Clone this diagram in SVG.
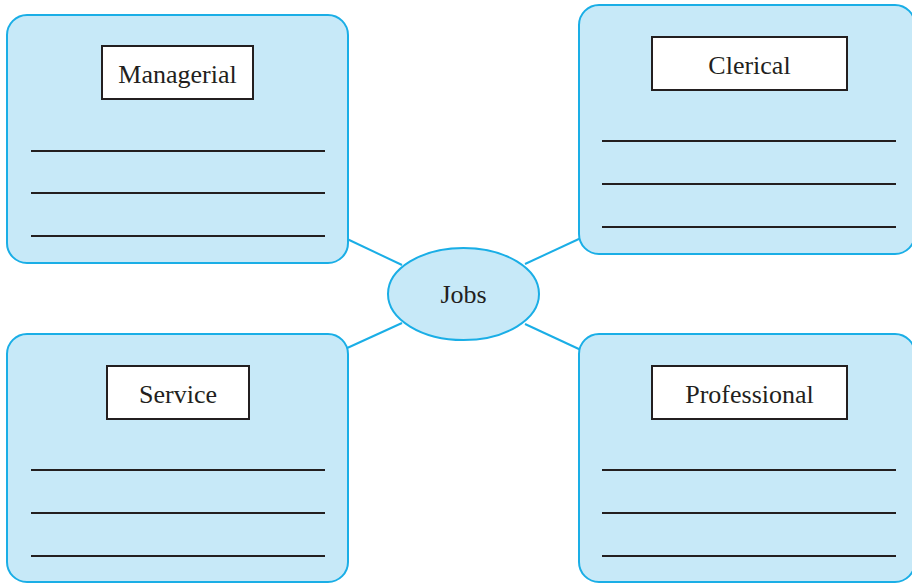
<svg xmlns="http://www.w3.org/2000/svg" width="912" height="583" viewBox="0 0 912 583">
<style>
.box{fill:#c7e9f8;stroke:#1aaee6;stroke-width:2}
.lbl{fill:#ffffff;stroke:#231f20;stroke-width:2}
.rule{stroke:#231f20;stroke-width:2}
.conn{stroke:#1aaee6;stroke-width:2;fill:none}
text{font-family:"Liberation Serif","Times New Roman",serif;font-size:26px;fill:#231f20;text-anchor:middle}
</style>
<rect width="912" height="583" fill="#ffffff"/>
<g id="connectors">
<line class="conn" x1="345" y1="238" x2="402" y2="265"/>
<line class="conn" x1="525" y1="264" x2="581" y2="238"/>
<line class="conn" x1="345" y1="349" x2="402" y2="323"/>
<line class="conn" x1="525" y1="324" x2="581" y2="350"/>
</g>
<g id="managerial">
<rect class="box" x="7" y="15" width="341" height="248" rx="20"/>
<rect class="lbl" x="102" y="46" width="151" height="53"/>
<text x="177.5" y="83">Managerial</text>
<line class="rule" x1="31" y1="151" x2="325" y2="151"/>
<line class="rule" x1="31" y1="193" x2="325" y2="193"/>
<line class="rule" x1="31" y1="236" x2="325" y2="236"/>
</g>
<g id="clerical">
<rect class="box" x="579" y="5" width="336" height="249" rx="20"/>
<rect class="lbl" x="652" y="37" width="195" height="53"/>
<text x="749.5" y="74">Clerical</text>
<line class="rule" x1="602" y1="141" x2="896" y2="141"/>
<line class="rule" x1="602" y1="184" x2="896" y2="184"/>
<line class="rule" x1="602" y1="227" x2="896" y2="227"/>
</g>
<g id="service">
<rect class="box" x="7" y="334" width="341" height="248" rx="20"/>
<rect class="lbl" x="107" y="366" width="142" height="53"/>
<text x="178" y="403">Service</text>
<line class="rule" x1="31" y1="470" x2="325" y2="470"/>
<line class="rule" x1="31" y1="513" x2="325" y2="513"/>
<line class="rule" x1="31" y1="556" x2="325" y2="556"/>
</g>
<g id="professional">
<rect class="box" x="579" y="334" width="336" height="248" rx="20"/>
<rect class="lbl" x="652" y="366" width="195" height="53"/>
<text x="749.5" y="403">Professional</text>
<line class="rule" x1="602" y1="470" x2="896" y2="470"/>
<line class="rule" x1="602" y1="513" x2="896" y2="513"/>
<line class="rule" x1="602" y1="556" x2="896" y2="556"/>
</g>
<g id="jobs">
<ellipse class="box" cx="463.5" cy="294" rx="75.5" ry="46"/>
<text x="463.5" y="303">Jobs</text>
</g>
</svg>
